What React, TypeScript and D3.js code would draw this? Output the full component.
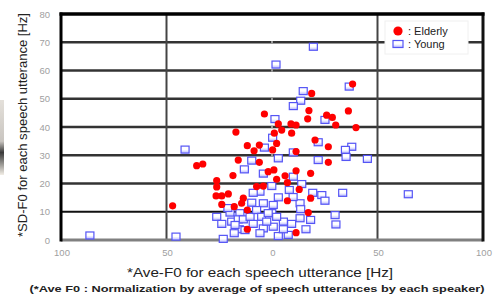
import React from 'react';
import * as d3 from 'd3';

// Elderly speakers (red dots): normalised Ave-F0 vs SD-F0 [Hz]
const elderlyX = [
  38.2, 18.8, -3.6, 17.5, 16.9, 25.9, 28.6, 36.2, 3.0, 9.0, 11.4, 30.2, 39.8, 4.6, 1.1, 9.3,
  -17.1, 2.2, 20.4, -11.7, -6.0, 26.7, 0.3, 11.4, -8.5, -16.0, -6.0, -35.7, -32.8, 26.7, -1.8,
  0.9, 11.4, 18.3, 6.2, -18.5, -26.2, 2.2, 7.3, -26.2, -4.1, -7.3, 12.9, -26.5, -23.8, -20.7,
  -13.6, -14.4, -23.8, -47.1, -17.9, 18.3, 7.3, -11.7, 17.2, -11.7, 11.4,
];
const elderlyY = [
  55.2, 51.9, 44.6, 45.8, 42.9, 44.2, 43.4, 45.7, 41.1, 41.1, 40.7, 40.7, 39.8, 38.9, 37.8, 37.8,
  38.2, 34.2, 35.4, 33.4, 33.6, 33.0, 31.9, 31.3, 31.6, 28.3, 27.5, 26.3, 26.9, 27.5, 24.2,
  24.8, 24.5, 23.6, 22.7, 22.8, 21.0, 21.5, 20.3, 18.8, 19.1, 18.9, 17.9, 15.6, 15.6, 16.3,
  14.8, 13.0, 12.6, 12.1, 11.8, 14.8, 13.9, 10.6, 9.7, 3.8, 2.6,
];

// Young speakers (blue squares)
const youngX = [
  19.6, 1.9, 14.8, 13.6, 10.1, 36.6, 1.4, 25.1, 0.3, 21.9, -3.6, -41.2, 37.8, 34.8, 10.1, 3.0,
  21.9, 35.1, 45.2, -9.6, -13.1, -4.1, 10.1, 14.1, -0.1, 8.2, 19.3, 23.6, 25.1, 33.5, 3.0, 13.3,
  0.6, 13.6, 29.9, 30.3, 18.3, 13.3, 5.4, 9.3, 16.1, 7.7, 3.0, 5.4, 0.6, -0.1, 64.6, -5.7, -8.9,
  -9.6, -4.1, -26.2, -19.9, -23.8, -19.1, -15.2, -16.0, -13.6, -15.5, -12.8, -17.5, -8.9, -10.4,
  -7.3, -4.9, -4.1, -5.7, -2.5, -1.8, -23.1, -45.5, -17.9, -86.3, 2.2, 10.0, -20.9,
];
const youngY = [
  68.4, 62.1, 52.7, 49.3, 47.4, 54.3, 42.8, 42.5, 36.2, 34.6, 32.7, 32.0, 33.0, 31.9, 31.0, 28.9,
  28.3, 29.4, 28.7, 28.1, 25.0, 23.5, 22.4, 19.8, 19.1, 17.7, 16.7, 15.9, 13.9, 16.7, 15.1, 13.0,
  12.4, 10.9, 8.8, 5.5, 7.1, 7.7, 6.5, 5.7, 3.8, 1.8, 1.4, 3.8, 4.7, 9.5, 16.2, 17.1, 16.7,
  13.2, 13.0, 8.2, 9.7, 5.7, 6.5, 9.5, 7.3, 7.3, 3.8, 3.5, 5.3, 5.7, 8.2,
  10.6, 8.2, 4.1, 2.4, 6.5, 9.5, 0.4, 1.2, 2.4, 1.6, 8.2, 15.2, 11.3,
];

const xTicks = [-100, -50, 0, 50, 100];
const yTicks = [0, 10, 20, 30, 40, 50, 60, 70, 80];
const xGrid = [-50, 50];

const WIDTH = 496;
const HEIGHT = 295;
const margin = { l: 61, r: 13, t: 14, b: 55 };
const FONT = '"Liberation Sans", Arial, sans-serif';

const App = () => {
  const x = d3.scaleLinear().domain([-100, 100]).range([margin.l, WIDTH - margin.r]);
  const y = d3.scaleLinear().domain([0, 80]).range([HEIGHT - margin.b, margin.t]);

  const elderly = elderlyX.map((v, i) => [v, elderlyY[i]]);
  const young = youngX.map((v, i) => [v, youngY[i]]);

  return (
    <div style={{ position: 'absolute', left: 0, top: 0 }}>
      <svg width={WIDTH} height={HEIGHT} viewBox={`0 0 ${WIDTH} ${HEIGHT}`} style={{ display: 'block', background: '#fff' }}>
        <defs>
          <linearGradient id="sq" x1="0" y1="0" x2="0" y2="1">
            <stop offset="0%" stopColor="#ffffff" />
            <stop offset="50%" stopColor="#ffffff" />
            <stop offset="100%" stopColor="#b4b4ff" />
          </linearGradient>
          <linearGradient id="scan" x1="0" y1="0" x2="0" y2="1">
            <stop offset="0%" stopColor="#e4e0da" />
            <stop offset="55%" stopColor="#c9c5c0" />
            <stop offset="70%" stopColor="#3a3a3a" />
            <stop offset="100%" stopColor="#f2eee6" />
          </linearGradient>
        </defs>

        {/* scan artefact on the left edge */}
        <rect x={0} y={100} width={4} height={75} fill="url(#scan)" />

        {/* horizontal grid */}
        {yTicks.slice(1, -1).map((t) => (
          <line key={`h${t}`} x1={x(-100)} x2={x(100)} y1={y(t)} y2={y(t)}
            stroke={t === 10 ? '#111' : '#333'} strokeWidth={t === 10 ? 2 : 2.6} />
        ))}
        {/* faint marks at x = 0 */}
        {yTicks.slice(1, -1).map((t) => (
          <line key={`m${t}`} x1={x(0) - 1} x2={x(0) + 1} y1={y(t)} y2={y(t)} stroke="#999" strokeWidth={2.6} />
        ))}
        {/* vertical grid */}
        {xGrid.map((t) => (
          <line key={`v${t}`} x1={x(t)} x2={x(t)} y1={y(80)} y2={y(0)} stroke="#444" strokeWidth={2} />
        ))}

        {/* frame */}
        <line x1={x(-100)} x2={x(100)} y1={y(0)} y2={y(0)} stroke="#808080" strokeWidth={3} />
        <line x1={x(-100)} x2={x(-100)} y1={y(80) - 1.5} y2={y(0) + 1.5} stroke="#000" strokeWidth={3} />
        <line x1={x(100)} x2={x(100)} y1={y(80) - 1.5} y2={y(0) + 1.5} stroke="#111" strokeWidth={3} />
        <line x1={x(-100) - 1.5} x2={x(100) + 1.5} y1={y(80)} y2={y(80)} stroke="#000" strokeWidth={3.5} />

        {/* young */}
        {young.map(([a, b], i) => (
          <rect key={`y${i}`} x={x(a) - 4} y={y(b) - 3.5} width={8} height={7}
            fill="url(#sq)" stroke="#5555f5" strokeWidth={1.2} />
        ))}
        {/* elderly */}
        {elderly.map(([a, b], i) => (
          <circle key={`e${i}`} cx={x(a)} cy={y(b)} r={3.6} fill="#ff0000" />
        ))}

        {/* tick labels */}
        {yTicks.map((t) => (
          <text key={`yt${t}`} x={50} y={y(t) + 3.5} textAnchor="end" fontFamily={FONT} fontSize={9.5} fill="#a0a0a0">
            {t}
          </text>
        ))}
        {xTicks.map((t) => (
          <text key={`xt${t}`} x={x(t) + 1} y={256} textAnchor="middle" fontFamily={FONT} fontSize={9.5} fill="#a0a0a0">
            {Math.abs(t)}
          </text>
        ))}

        {/* legend */}
        <rect x={385} y={21} width={83} height={33} fill="#fff" stroke="#f0f0f0" />
        <circle cx={398} cy={31} r={4.6} fill="#ff0000" />
        <text x={408} y={35} fontFamily={FONT} fontSize={11} fill="#222">: Elderly</text>
        <rect x={393} y={40.5} width={10} height={7} fill="url(#sq)" stroke="#5555f5" strokeWidth={1.2} />
        <text x={408} y={48} fontFamily={FONT} fontSize={11} fill="#222">: Young</text>

        {/* axis titles */}
        <text transform={`translate(27, ${125}) rotate(-90)`} textAnchor="middle" fontFamily={FONT}
          fontSize={12} fill="#222" textLength={224} lengthAdjust="spacingAndGlyphs">
          *SD-F0 for each speech utterance [Hz]
        </text>
        <text x={260} y={277} textAnchor="middle" fontFamily={FONT} fontSize={13} fill="#222"
          textLength={266} lengthAdjust="spacingAndGlyphs">
          *Ave-F0 for each speech utterance [Hz]
        </text>
        <text x={257} y={292} textAnchor="middle" fontFamily={FONT} fontSize={9.5} fontWeight="bold" fill="#222"
          textLength={455} lengthAdjust="spacingAndGlyphs">
          (*Ave F0 : Normalization by average of speech utterances by each speaker)
        </text>
      </svg>
    </div>
  );
};

export default App;
